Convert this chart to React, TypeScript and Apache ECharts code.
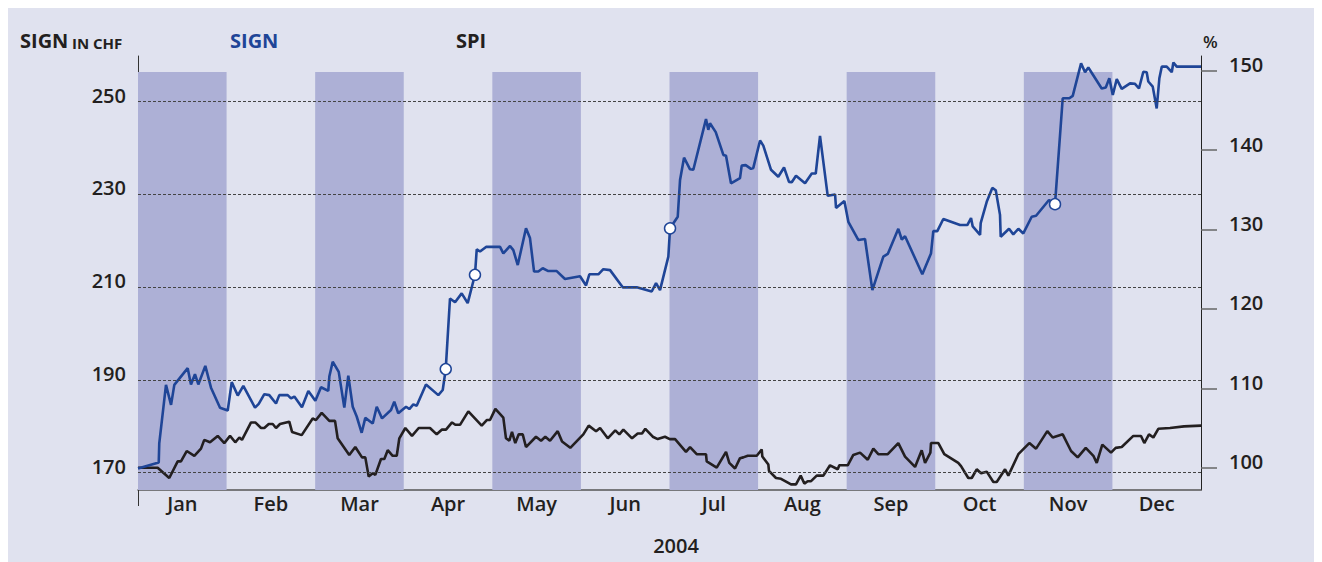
import React, { useEffect, useRef } from "react";
import * as echarts from "echarts";

const months = ["Jan", "Feb", "Mar", "Apr", "May", "Jun", "Jul", "Aug", "Sep", "Oct", "Nov", "Dec"];
const bandMonths = [0, 2, 4, 6, 8, 10];
const leftTicks = [170, 190, 210, 230, 250];
const rightTicks = [100, 110, 120, 130, 140, 150];

// SIGN share price in CHF (x = position in year, months from 1 Jan)
const signDates = [
  0.0, 0.234, 0.24, 0.316, 0.373, 0.41, 0.561, 0.598, 0.643, 0.681, 0.76, 0.824, 0.926, 1.013, 1.058, 1.126,
  1.189, 1.321, 1.363, 1.426, 1.482, 1.558, 1.595, 1.69, 1.727, 1.765, 1.851, 1.923, 2.002, 2.066, 2.148, 2.16,
  2.198, 2.266, 2.329, 2.374, 2.424, 2.469, 2.525, 2.566, 2.65, 2.695, 2.755, 2.856, 2.893, 2.938, 3.026, 3.063,
  3.108, 3.146, 3.251, 3.39, 3.44, 3.474, 3.522, 3.579, 3.654, 3.722, 3.804, 3.824, 3.861, 3.929, 4.087, 4.124,
  4.2, 4.237, 4.287, 4.38, 4.425, 4.471, 4.519, 4.569, 4.632, 4.727, 4.82, 4.99, 5.058, 5.095, 5.197, 5.253,
  5.329, 5.472, 5.63, 5.799, 5.848, 5.893, 5.987, 6.006, 6.093, 6.119, 6.164, 6.232, 6.269, 6.412, 6.438, 6.457,
  6.522, 6.608, 6.638, 6.694, 6.796, 6.815, 6.86, 6.92, 6.946, 7.022, 7.059, 7.146, 7.228, 7.293, 7.349, 7.38,
  7.428, 7.53, 7.606, 7.651, 7.699, 7.786, 7.869, 7.88, 7.974, 8.019, 8.131, 8.207, 8.29, 8.414, 8.464, 8.583,
  8.622, 8.659, 8.854, 8.952, 8.978, 9.023, 9.091, 9.28, 9.362, 9.404, 9.423, 9.506, 9.513, 9.581, 9.644, 9.683,
  9.731, 9.739, 9.833, 9.881, 9.938, 9.994, 10.089, 10.138, 10.284, 10.352, 10.439, 10.514, 10.552, 10.646, 10.691, 10.728,
  10.879, 10.925, 10.965, 11.004, 11.049, 11.105, 11.199, 11.255, 11.3, 11.349, 11.387, 11.405, 11.455, 11.5, 11.53, 11.557,
  11.613, 11.67, 11.688, 11.726, 12.0,
];
const signValues = [
  170.9, 172.2, 176.3, 188.9, 184.6, 188.9, 192.5, 189.0, 191.2, 189.0, 193.0, 188.3, 184.0, 183.4, 189.5, 186.6,
  188.7, 184.0, 184.8, 186.9, 186.7, 184.9, 186.7, 186.7, 186.0, 186.4, 184.1, 187.6, 185.5, 188.4, 187.6, 190.7,
  193.9, 191.7, 184.0, 190.9, 184.2, 182.1, 178.6, 181.8, 180.6, 184.2, 181.7, 183.5, 185.3, 182.8, 184.2, 183.7,
  184.7, 184.4, 189.0, 186.7, 187.8, 192.3, 207.5, 206.7, 208.6, 206.5, 212.6, 218.1, 217.6, 218.6, 218.6, 217.2,
  218.8, 217.9, 214.7, 222.6, 220.5, 213.3, 213.3, 214.0, 213.4, 213.4, 211.7, 212.3, 210.3, 212.7, 212.7, 213.8,
  213.6, 209.9, 209.9, 209.0, 210.8, 209.3, 216.5, 222.6, 225.1, 233.0, 237.8, 235.3, 235.2, 246.1, 243.8, 245.2,
  243.3, 238.4, 238.2, 232.3, 233.4, 236.1, 236.2, 235.4, 235.6, 241.5, 240.4, 235.2, 233.7, 235.7, 232.6, 232.5,
  233.9, 232.3, 234.4, 234.4, 242.5, 229.6, 229.9, 227.0, 228.5, 224.0, 220.1, 220.3, 209.3, 216.5, 217.1, 222.5,
  220.2, 220.9, 212.7, 217.2, 222.0, 222.0, 224.6, 223.3, 223.3, 224.8, 223.0, 221.2, 223.7, 228.3, 231.3, 230.8,
  225.5, 220.8, 222.5, 221.3, 222.5, 221.5, 225.1, 225.3, 228.7, 227.8, 250.6, 250.6, 251.1, 258.1, 256.2, 257.2,
  252.7, 252.9, 254.9, 251.3, 254.7, 252.6, 253.8, 253.7, 252.7, 256.3, 256.2, 254.2, 253.1, 248.4, 254.9, 257.4,
  257.4, 256.2, 258.3, 257.4, 257.4,
];

// White-circle events on the SIGN line
const eventDates = [3.474, 3.804, 6.006, 10.352];
const eventValues = [192.3, 212.6, 222.6, 227.8];

// SPI index in % (start = 100)
const spiDates = [
  0.0, 0.222, 0.353, 0.448, 0.485, 0.55, 0.636, 0.711, 0.748, 0.813, 0.9, 0.974, 1.039, 1.098, 1.144, 1.174,
  1.276, 1.324, 1.389, 1.426, 1.476, 1.521, 1.558, 1.603, 1.708, 1.739, 1.848, 1.972, 2.009, 2.074, 2.16, 2.224,
  2.254, 2.385, 2.453, 2.529, 2.566, 2.604, 2.65, 2.679, 2.743, 2.781, 2.819, 2.875, 2.921, 2.95, 3.018, 3.093,
  3.169, 3.296, 3.372, 3.432, 3.477, 3.545, 3.582, 3.635, 3.729, 3.88, 3.937, 3.974, 4.034, 4.124, 4.154, 4.192,
  4.222, 4.259, 4.298, 4.343, 4.38, 4.493, 4.55, 4.598, 4.651, 4.738, 4.787, 4.88, 5.027, 5.088, 5.171, 5.216,
  5.303, 5.388, 5.434, 5.479, 5.577, 5.641, 5.69, 5.727, 5.811, 5.867, 5.949, 6.003, 6.063, 6.186, 6.232, 6.307,
  6.412, 6.42, 6.533, 6.638, 6.675, 6.74, 6.796, 6.833, 6.883, 6.985, 7.041, 7.048, 7.116, 7.123, 7.202, 7.259,
  7.372, 7.428, 7.481, 7.522, 7.56, 7.598, 7.662, 7.737, 7.812, 7.899, 7.917, 8.012, 8.075, 8.151, 8.238, 8.301,
  8.357, 8.464, 8.583, 8.659, 8.772, 8.847, 8.885, 8.945, 8.952, 9.035, 9.102, 9.26, 9.291, 9.373, 9.412, 9.468,
  9.517, 9.581, 9.656, 9.694, 9.788, 9.825, 9.938, 10.062, 10.138, 10.265, 10.326, 10.439, 10.533, 10.608, 10.699, 10.785,
  10.823, 10.886, 10.984, 11.037, 11.105, 11.236, 11.323, 11.36, 11.413, 11.462, 11.518, 11.65, 11.808, 12.0,
];
const spiValues = [
  100.0, 100.0, 98.7, 100.8, 100.8, 102.1, 101.5, 102.4, 103.5, 103.2, 104.0, 103.1, 104.0, 103.2, 103.8, 103.5,
  105.7, 105.7, 105.0, 105.0, 105.5, 105.5, 105.0, 105.5, 105.8, 104.5, 104.1, 106.2, 106.0, 106.9, 105.9, 105.9,
  103.7, 101.6, 102.6, 101.3, 101.3, 98.9, 99.3, 99.1, 101.1, 101.1, 102.2, 101.5, 101.5, 103.7, 105.0, 104.0,
  105.0, 105.0, 104.2, 104.8, 104.8, 105.7, 105.4, 105.4, 107.1, 105.3, 106.0, 106.0, 107.4, 106.3, 103.7, 103.4,
  104.5, 103.1, 104.2, 104.2, 102.6, 103.9, 103.4, 103.9, 103.4, 104.6, 103.3, 102.5, 104.2, 105.3, 104.6, 105.0,
  103.7, 104.7, 104.2, 104.8, 103.7, 104.3, 104.3, 104.9, 103.9, 103.6, 103.9, 103.6, 103.6, 102.0, 102.6, 101.7,
  101.7, 100.8, 100.0, 102.0, 100.6, 99.9, 101.2, 101.3, 101.5, 101.5, 102.3, 101.4, 100.4, 99.6, 98.7, 98.6,
  97.9, 97.9, 99.0, 98.0, 98.3, 98.3, 99.0, 99.0, 100.3, 99.8, 100.3, 100.3, 101.6, 101.9, 101.0, 102.4,
  101.7, 101.7, 103.1, 101.4, 100.1, 102.2, 100.6, 101.9, 103.1, 103.1, 101.7, 100.6, 100.2, 98.7, 98.7, 99.8,
  99.3, 99.5, 98.2, 98.2, 99.8, 99.0, 101.7, 103.1, 102.4, 104.6, 103.8, 104.2, 102.1, 101.3, 102.5, 101.5,
  100.6, 102.9, 101.9, 102.5, 102.6, 104.0, 104.0, 103.1, 104.2, 103.8, 104.9, 105.0, 105.2, 105.3,
];

const FONT = "'Open Sans', 'Noto Sans', 'DejaVu Sans', sans-serif";
const BLUE = "#1f4597";
const INK = "#231f20";

const pair = (xs: number[], ys: number[]) => xs.map((x, i) => [x, ys[i]]);

export default function App() {
  const ref = useRef<HTMLDivElement>(null);

  useEffect(() => {
    document.documentElement.style.overflow = "hidden";
    document.body.style.overflow = "hidden";
    if (!ref.current) return;
    const chart = echarts.init(ref.current, undefined, { renderer: "svg" });

    const leftMin = 166.28;
    const leftMax = 259.69;
    const bandTop = 256.25;

    const tickLabel = {
      color: INK,
      fontSize: 20,
      fontWeight: 600,
      fontFamily: FONT,
    };

    chart.setOption({
      animation: false,
      backgroundColor: "#e0e2ef",
      textStyle: { fontFamily: FONT },
      grid: { left: 130, right: 129, top: 48, bottom: 80, containLabel: false },
      xAxis: {
        type: "value",
        min: 0,
        max: 12,
        axisLine: { show: true, lineStyle: { color: "#555", width: 1.5 } },
        axisTick: { show: true, customValues: [0], length: 16, lineStyle: { color: "#333", width: 1 } },
        axisLabel: {
          ...tickLabel,
          customValues: months.map((_, i) => i + 0.5),
          formatter: (v: number) => months[Math.floor(v)],
          margin: 3,
        },
        splitLine: { show: false },
      },
      yAxis: [
        {
          type: "value",
          position: "left",
          min: leftMin,
          max: leftMax,
          axisLine: { show: true, lineStyle: { color: "#333", width: 1 } },
          axisTick: { show: false },
          axisLabel: {
            ...tickLabel,
            customValues: leftTicks,
            margin: 12,
            verticalAlign: "bottom",
            lineHeight: 12,
          },
          splitLine: { show: false },
        },
        {
          type: "value",
          position: "right",
          min: 97.19,
          max: 151.85,
          axisLine: { show: true, lineStyle: { color: "#222", width: 1 } },
          axisTick: { show: true, customValues: rightTicks, length: 16, lineStyle: { color: "#666", width: 1.5 } },
          axisLabel: {
            ...tickLabel,
            customValues: rightTicks,
            margin: 28,
            verticalAlign: "bottom",
            lineHeight: 12,
          },
          splitLine: { show: false },
        },
      ],
      series: [
        {
          name: "bands",
          type: "line",
          yAxisIndex: 0,
          data: [],
          z: 1,
          silent: true,
          markArea: {
            silent: true,
            itemStyle: { color: "#adb0d6" },
            data: bandMonths.map((m) => [
              { xAxis: m, yAxis: bandTop },
              { xAxis: m + 1, yAxis: leftMin },
            ]),
          },
        },
        {
          name: "grid",
          type: "line",
          yAxisIndex: 0,
          data: [],
          z: 2,
          silent: true,
          markLine: {
            silent: true,
            symbol: "none",
            label: { show: false },
            lineStyle: { type: [3, 2], color: "#444", width: 1 },
            data: leftTicks.map((v) => ({ yAxis: v })),
          },
        },
        {
          name: "SPI",
          type: "line",
          yAxisIndex: 1,
          data: pair(spiDates, spiValues),
          showSymbol: false,
          z: 3,
          lineStyle: { color: INK, width: 2.6 },
          itemStyle: { color: INK },
        },
        {
          name: "SIGN",
          type: "line",
          yAxisIndex: 0,
          data: pair(signDates, signValues),
          showSymbol: false,
          z: 4,
          lineStyle: { color: BLUE, width: 2.6 },
          itemStyle: { color: BLUE },
        },
        {
          name: "events",
          type: "scatter",
          yAxisIndex: 0,
          data: pair(eventDates, eventValues),
          symbol: "circle",
          symbolSize: 11,
          z: 5,
          itemStyle: { color: "#ffffff", borderColor: BLUE, borderWidth: 1.5, opacity: 1 },
        },
      ],
      graphic: [
        {
          type: "text",
          x: 12,
          y: 32,
          style: { text: "SIGN", fontSize: 20, fontWeight: "bold", fill: INK, fontFamily: FONT, verticalAlign: "middle" },
        },
        {
          type: "text",
          x: 64,
          y: 34.5,
          style: { text: "IN CHF", fontSize: 15, fontWeight: "bold", fill: INK, fontFamily: FONT, verticalAlign: "middle" },
        },
        {
          type: "text",
          x: 222,
          y: 32,
          style: { text: "SIGN", fontSize: 20, fontWeight: "bold", fill: BLUE, fontFamily: FONT, verticalAlign: "middle" },
        },
        {
          type: "text",
          x: 448,
          y: 32,
          style: { text: "SPI", fontSize: 20, fontWeight: "bold", fill: INK, fontFamily: FONT, verticalAlign: "middle" },
        },
        {
          type: "text",
          x: 1195,
          y: 33,
          style: { text: "%", fontSize: 17, fontWeight: 600, fill: INK, fontFamily: FONT, verticalAlign: "middle" },
        },
        {
          type: "text",
          x: 668,
          y: 537,
          style: { text: "2004", fontSize: 20, fontWeight: 600, fill: INK, fontFamily: FONT, align: "center", verticalAlign: "middle" },
        },
      ],
    });

    return () => chart.dispose();
  }, []);

  return <div ref={ref} style={{ width: 1322, height: 562 }} />;
}
